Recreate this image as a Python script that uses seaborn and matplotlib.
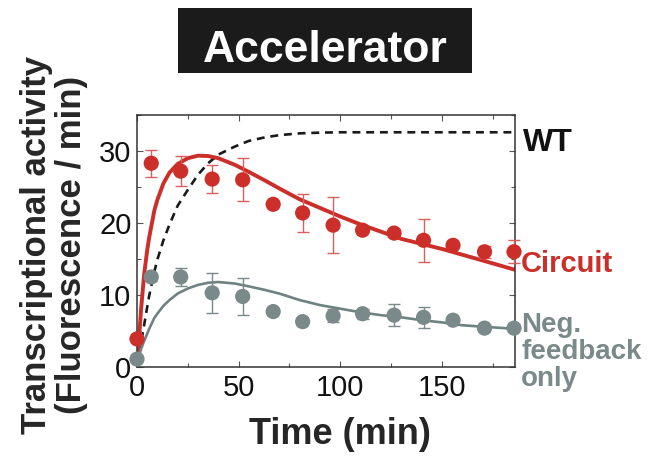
"""
Accelerator circuit - transcriptional activity over time
"""
import matplotlib
matplotlib.use('Agg')
import matplotlib.pyplot as plt
from matplotlib.patches import Rectangle
from matplotlib.ticker import MultipleLocator
import seaborn as sns

# measured time points (min)
time_pts = [0, 7, 21.5, 37, 52, 67, 81.5, 96.5, 111, 126.5, 141, 155.5, 171, 185.5]

# circuit measurements
circuit_mean = [3.9, 28.3, 27.2, 26.1, 26.0, 22.6, 21.4, 19.7, 19.0, 18.6, 17.6, 16.9, 16.0, 16.0]
circuit_err = [0, 1.9, 2.1, 2.0, 3.0, 0, 2.6, 3.9, 0, 0.6, 3.0, 0, 0.8, 1.6]

# negative feedback only measurements
negfb_mean = [1.1, 12.5, 12.5, 10.3, 9.8, 7.7, 6.3, 7.1, 7.4, 7.2, 6.9, 6.5, 5.4, 5.4]
negfb_err = [0, 0.5, 1.3, 2.8, 2.6, 0, 0, 0.9, 0.7, 1.5, 1.5, 0, 0, 0]

# model curves
model_t = [0, 1, 2, 3.5, 5, 6, 8.5, 10, 13, 16, 20, 25, 30, 35, 40, 48, 55, 63, 70,
           80, 90, 100, 110, 120, 130, 140, 150, 160, 170, 186]
circuit_fit = [0, 4.0, 8.0, 12.8, 16.2, 18.0, 21.7, 23.2, 25.5, 27.0, 28.2, 29.0, 29.35,
               29.3, 29.0, 28.1, 27.1, 25.9, 24.8, 23.3, 22.1, 20.9, 19.8, 18.8, 17.8,
               17.1, 16.4, 15.6, 14.8, 13.5]
negfb_fit = [0.3, 1.5, 2.5, 3.6, 4.6, 5.3, 6.8, 7.4, 8.5, 9.3, 10.2, 10.9, 11.4,
             11.7, 11.8, 11.6, 11.2, 10.7, 10.2, 9.3, 8.6, 8.1, 7.6, 7.2, 6.9, 6.5,
             6.2, 5.8, 5.6, 5.3]
wt_fit = [0, 1.7, 3.4, 5.8, 8.3, 9.9, 13.2, 14.9, 17.6, 19.8, 22.4, 24.6, 26.7,
          28.3, 29.5, 30.6, 31.4, 31.9, 32.2, 32.45, 32.55, 32.6, 32.6, 32.6, 32.6,
          32.6, 32.6, 32.6, 32.6, 32.6]

RED = '#cc2e2a'
RED_LIGHT = '#d9605c'
GRAY = '#7a8989'
GRAY_LINE = '#6f8282'

sns.set_style('ticks')
plt.rcParams['font.family'] = ['Liberation Sans', 'DejaVu Sans']

fig = plt.figure(figsize=(6.67, 4.57), dpi=100)
ax = fig.add_axes([137 / 667, 1 - 367 / 457, 378 / 667, 252 / 457])

# model curves
sns.lineplot(x=model_t, y=wt_fit, ax=ax, color='#1a1a1a', linewidth=1.9,
             linestyle=(0, (3, 2.2)), sort=False)
sns.lineplot(x=model_t, y=circuit_fit, ax=ax, color=RED, linewidth=2.8, sort=False)
sns.lineplot(x=model_t, y=negfb_fit, ax=ax, color=GRAY_LINE, linewidth=1.9, sort=False)

# error bars
ax.errorbar(time_pts, circuit_mean, yerr=circuit_err, fmt='none', ecolor=RED_LIGHT,
            elinewidth=1.0, capsize=4, capthick=1.0, clip_on=False, zorder=3)
ax.errorbar(time_pts, negfb_mean, yerr=negfb_err, fmt='none', ecolor=GRAY,
            elinewidth=1.0, capsize=4, capthick=1.0, clip_on=False, zorder=3)

# data points
sns.scatterplot(x=time_pts, y=circuit_mean, ax=ax, color=RED, s=120,
                edgecolor='none', zorder=4, clip_on=False)
sns.scatterplot(x=time_pts, y=negfb_mean, ax=ax, color=GRAY, s=120,
                edgecolor='none', zorder=4, clip_on=False)

ax.set_xlim(0, 186)
ax.set_ylim(0, 35)
ax.xaxis.set_major_locator(MultipleLocator(50))
ax.xaxis.set_minor_locator(MultipleLocator(25))
ax.yaxis.set_major_locator(MultipleLocator(10))
ax.yaxis.set_minor_locator(MultipleLocator(5))
ax.tick_params(which='both', direction='in', top=True, right=True,
               colors='#555555', labelcolor='#111111', labelsize=21, width=0.8)
ax.tick_params(which='major', length=4)
ax.tick_params(axis='x', which='major', pad=5)
ax.tick_params(axis='y', which='major', pad=4)
ax.tick_params(which='minor', length=3)
for sp in ax.spines.values():
    sp.set_color('#333333')
    sp.set_linewidth(1.1)

ax.set_xlabel('Time (min)', fontsize=26, fontweight='bold', labelpad=11)
ax.xaxis.label.set_x(0.537)

fig.text(54 / 667, 1 - 245 / 457, 'Transcriptional activity\n(Fluorescence / min)',
         rotation=90, ha='center', va='center', fontsize=25, fontweight='bold',
         linespacing=1.05)

# curve labels on the right
ax.text(190, 31.1, 'WT', fontsize=23, fontweight='bold', color='#111111',
        ha='left', va='center', clip_on=False)
ax.text(189, 14.3, 'Circuit', fontsize=21, fontweight='bold', color=RED,
        ha='left', va='center', clip_on=False)
ax.text(189, 7.6, 'Neg.\nfeedback\nonly', fontsize=20, fontweight='bold', color=GRAY,
        ha='left', va='top', clip_on=False, linespacing=1.05)

# title box
fig.patches.append(Rectangle((178 / 667, 1 - 73 / 457), 294 / 667, 65 / 457,
                             transform=fig.transFigure, facecolor='#1b1b1b',
                             edgecolor='none'))
fig.text(325 / 667, 1 - 62 / 457, 'Accelerator', color='white', fontsize=32,
         fontweight='bold', ha='center', va='baseline')

fig.savefig('out.png', dpi=100, facecolor='white')
